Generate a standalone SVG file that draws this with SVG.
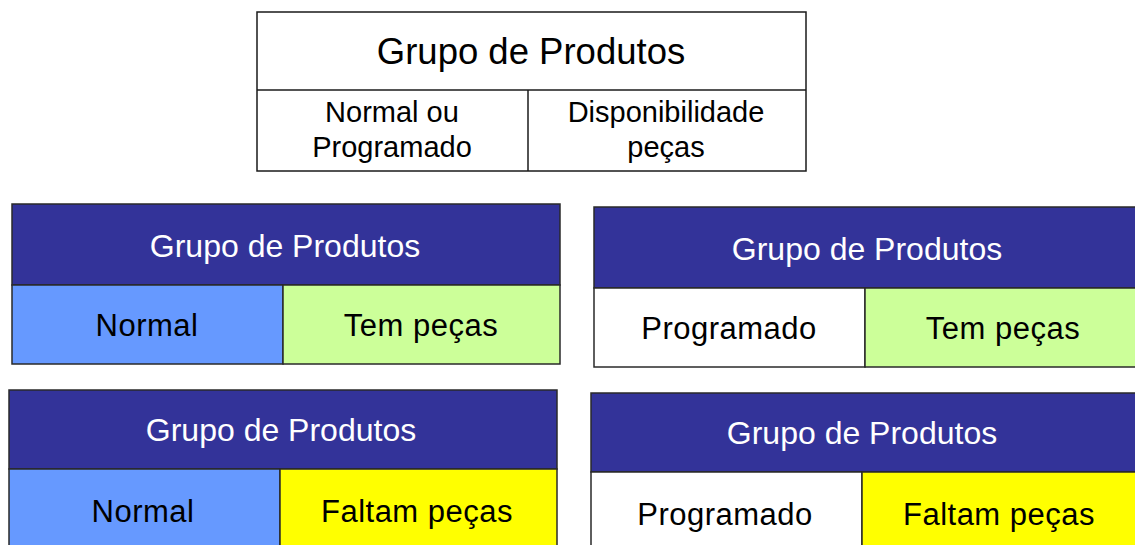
<svg xmlns="http://www.w3.org/2000/svg" width="1135" height="545" viewBox="0 0 1135 545">
<style>
.t{font-family:"Liberation Sans",Arial,sans-serif;text-anchor:middle;fill:#000}
.w{fill:#fff}
.hd{fill:#333399;stroke:#2a2a2a;stroke-width:1.5}
.c{stroke:#2a2a2a;stroke-width:1.5}
.blue{fill:#6699FF}
.green{fill:#CCFF99}
.yellow{fill:#FFFF00}
.white{fill:#FFFFFF}
.f31{font-size:32px}
.f30{font-size:31px;letter-spacing:0.5px}
</style>
<rect width="1135" height="545" fill="#fff"/>
<g id="top-table">
<rect x="257" y="12" width="549" height="159" fill="#fff" stroke="#1a1a1a" stroke-width="1.5"/>
<line x1="257" y1="90" x2="806" y2="90" stroke="#1a1a1a" stroke-width="1.5"/>
<line x1="528" y1="90" x2="528" y2="171" stroke="#1a1a1a" stroke-width="1.5"/>
<text class="t" x="531" y="64" font-size="36.5">Grupo de Produtos</text>
<text class="t" x="392" y="122" font-size="29">Normal ou</text>
<text class="t" x="392" y="157" font-size="29">Programado</text>
<text class="t" x="666" y="122" font-size="29">Disponibilidade</text>
<text class="t" x="666" y="157" font-size="29">peças</text>
</g>
<g id="card-normal-tem">
<rect class="hd" x="12" y="204" width="548" height="81"/>
<rect class="c blue" x="12" y="285" width="271" height="79"/>
<rect class="c green" x="283" y="285" width="277" height="79"/>
<text class="t w f31" x="285" y="257">Grupo de Produtos</text>
<text class="t f30" x="147" y="336">Normal</text>
<text class="t f30" x="421" y="336">Tem peças</text>
</g>
<g id="card-programado-tem">
<rect class="hd" x="594" y="207" width="548" height="81"/>
<rect class="c white" x="594" y="288" width="271" height="79"/>
<rect class="c green" x="865" y="288" width="277" height="79"/>
<text class="t w f31" x="867" y="260">Grupo de Produtos</text>
<text class="t f30" x="729" y="339">Programado</text>
<text class="t f30" x="1003" y="339">Tem peças</text>
</g>
<g id="card-normal-faltam">
<rect class="hd" x="9" y="390" width="548" height="79"/>
<rect class="c blue" x="9" y="469" width="271" height="80"/>
<rect class="c yellow" x="280" y="469" width="277" height="80"/>
<text class="t w f31" x="281" y="441">Grupo de Produtos</text>
<text class="t f30" x="143" y="522">Normal</text>
<text class="t f30" x="417" y="522">Faltam peças</text>
</g>
<g id="card-programado-faltam">
<rect class="hd" x="591" y="393" width="548" height="79"/>
<rect class="c white" x="591" y="472" width="271" height="80"/>
<rect class="c yellow" x="862" y="472" width="277" height="80"/>
<text class="t w f31" x="862" y="444">Grupo de Produtos</text>
<text class="t f30" x="725" y="525">Programado</text>
<text class="t f30" x="999" y="525">Faltam peças</text>
</g>
<g id="connectors"></g>
</svg>
